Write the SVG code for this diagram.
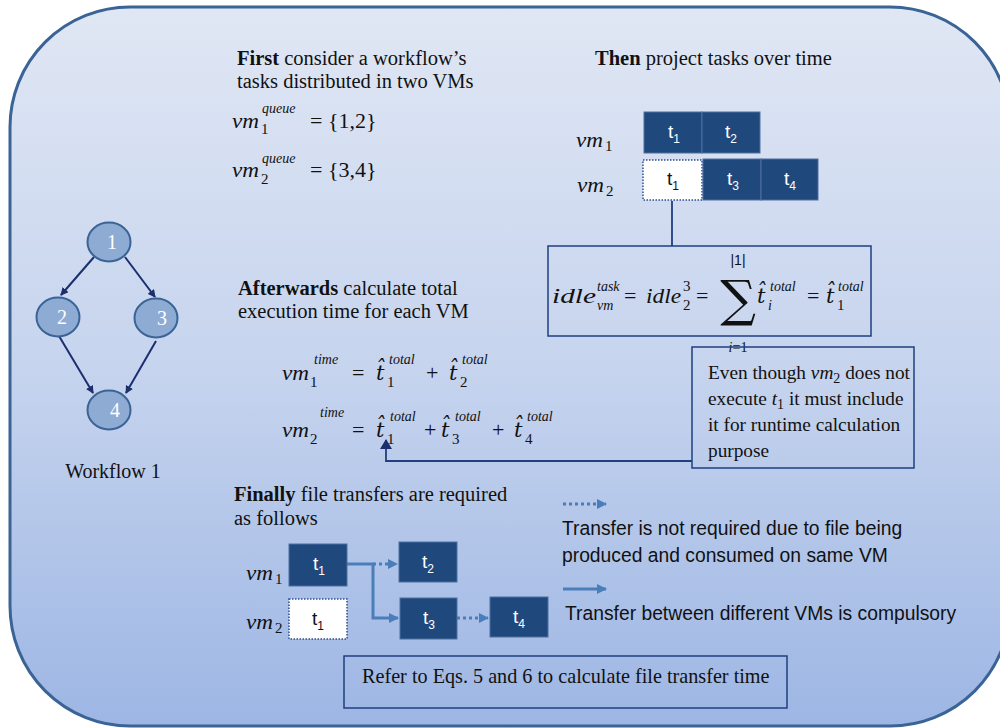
<svg xmlns="http://www.w3.org/2000/svg" width="1000" height="728" viewBox="0 0 1000 728">
<defs>
<linearGradient id="bg" x1="0" y1="0" x2="0" y2="1">
<stop offset="0" stop-color="#e0e7f4"/>
<stop offset="0.5" stop-color="#c6d4ee"/>
<stop offset="1" stop-color="#9db6e4"/>
</linearGradient>
<marker id="navy" markerWidth="8" markerHeight="8" refX="7" refY="4" orient="auto" markerUnits="userSpaceOnUse">
<path d="M0,0 L8,4 L0,8 Z" fill="#1b2f6e"/>
</marker>
<marker id="blue" markerWidth="10" markerHeight="10" refX="9" refY="5" orient="auto" markerUnits="userSpaceOnUse">
<path d="M0,0 L10,5 L0,10 Z" fill="#4a7ebb"/>
</marker>
<marker id="navyBig" markerWidth="10" markerHeight="12" refX="9" refY="6" orient="auto" markerUnits="userSpaceOnUse">
<path d="M0,0 L10,6 L0,12 Z" fill="#1b2f6e"/>
</marker>
</defs>
<style>
.serif{font-family:"Liberation Serif","Times New Roman",serif;fill:#111}
.t{font-size:20.5px}
.m{font-family:"Liberation Serif","DejaVu Serif",serif;font-style:italic;fill:#111;font-size:22px}
.mu{font-family:"Liberation Serif","DejaVu Serif",serif;fill:#111;font-size:22px}
.sup{font-family:"Liberation Serif","DejaVu Serif",serif;font-style:italic;fill:#111;font-size:14px}
.sub{font-family:"Liberation Serif","DejaVu Serif",serif;fill:#111;font-size:15px}
.hat{font-family:"DejaVu Serif",serif;font-style:italic;fill:#111;font-size:21px}
.sans{font-family:"Liberation Sans",Arial,sans-serif;fill:#111;font-size:19.3px}
.task{fill:#1f497d;stroke:#4f6f9f;stroke-width:1}
.ghost{fill:#ffffff;stroke:#2f4f8f;stroke-width:1.5;stroke-dasharray:1.5 1.5}
.tl{font-family:"Liberation Sans Narrow","Liberation Sans",sans-serif;fill:#fff;font-size:19px}
.tlk{font-family:"Liberation Sans Narrow","Liberation Sans",sans-serif;fill:#111;font-size:19px}
.box{fill:none;stroke:#1f3f80;stroke-width:1.5}
.node{fill:#8eabd3;stroke:#3a6396;stroke-width:2}
.nl{font-family:"Liberation Serif",serif;fill:#fff;font-size:20px}
.edge{stroke:#1b2f6e;stroke-width:2;fill:none}
.tr{stroke:#4a7ebb;stroke-width:3;fill:none}
.dot{stroke-dasharray:3 3}
</style>

<g id="background">
<rect x="10" y="7" width="1000" height="719" rx="120" ry="120" fill="url(#bg)" stroke="#3a6396" stroke-width="3"/>
</g>

<g id="connectors">
<line class="edge" x1="94" y1="257" x2="61" y2="295" marker-end="url(#navy)"/>
<line class="edge" x1="125" y1="257" x2="155" y2="297" marker-end="url(#navy)"/>
<line class="edge" x1="59" y1="336" x2="93" y2="393" marker-end="url(#navy)"/>
<line class="edge" x1="156" y1="341" x2="126" y2="393" marker-end="url(#navy)"/>
<line x1="672" y1="201" x2="672" y2="246" stroke="#1f3f80" stroke-width="1.8"/>
<path d="M692,461 H386 V440" stroke="#1f3f80" stroke-width="1.8" fill="none" marker-end="url(#navyBig)"/>
<path class="tr" d="M347,564 H373 V618 H398" marker-end="url(#blue)"/>
<path class="tr dot" d="M373,564 H397" marker-end="url(#blue)"/>
<path class="tr dot" d="M457,618 H488" marker-end="url(#blue)"/>
<path class="tr dot" d="M563,504 H606" marker-end="url(#blue)"/>
<path class="tr" d="M563,589 H606" marker-end="url(#blue)"/>
</g>

<g id="workflow">
<g id="n1"><ellipse class="node" cx="109" cy="242" rx="21.5" ry="19.5"/><text class="nl" x="112" y="249" text-anchor="middle">1</text></g>
<g id="n2"><ellipse class="node" cx="58" cy="317" rx="21.5" ry="19.5"/><text class="nl" x="62" y="324" text-anchor="middle">2</text></g>
<g id="n3"><ellipse class="node" cx="156" cy="318" rx="21.5" ry="19.5"/><text class="nl" x="162" y="325" text-anchor="middle">3</text></g>
<g id="n4"><ellipse class="node" cx="109" cy="410" rx="21.5" ry="19.5"/><text class="nl" x="115" y="417" text-anchor="middle">4</text></g>
<text class="serif" x="113" y="478" font-size="20" text-anchor="middle">Workflow 1</text>
</g>

<g id="step-first">
<text class="serif t" x="237" y="65"><tspan font-weight="bold">First</tspan> consider a workflow’s</text>
<text class="serif t" x="237" y="88">tasks distributed in two VMs</text>
<text class="m" x="232" y="128" textLength="27" lengthAdjust="spacingAndGlyphs">vm</text>
<text class="sub" x="261" y="134">1</text>
<text class="sup" x="262" y="113">queue</text>
<text class="mu" x="310" y="128">= {1,2}</text>
<text class="m" x="232" y="177" textLength="27" lengthAdjust="spacingAndGlyphs">vm</text>
<text class="sub" x="261" y="184">2</text>
<text class="sup" x="262" y="163">queue</text>
<text class="mu" x="310" y="177">= {3,4}</text>
</g>

<g id="step-then">
<text class="serif t" x="595" y="65"><tspan font-weight="bold">Then</tspan> project tasks over time</text>
<text class="m" x="576" y="147" textLength="27" lengthAdjust="spacingAndGlyphs">vm</text><text class="sub" x="605" y="151">1</text>
<text class="m" x="577" y="192" textLength="27" lengthAdjust="spacingAndGlyphs">vm</text><text class="sub" x="606" y="196">2</text>
<g id="g-vm1-t1"><rect class="task" x="644" y="112" width="58" height="41"/><text class="tl" x="668" y="138">t<tspan font-size="12" dy="5">1</tspan></text></g>
<g id="g-vm1-t2"><rect class="task" x="702" y="112" width="58" height="41"/><text class="tl" x="725" y="138">t<tspan font-size="12" dy="5">2</tspan></text></g>
<g id="g-vm2-t1"><rect class="ghost" x="643" y="160" width="59" height="40"/><text class="tlk" x="667" y="185">t<tspan font-size="12" dy="5">1</tspan></text></g>
<g id="g-vm2-t3"><rect class="task" x="703" y="159" width="58" height="41"/><text class="tl" x="727" y="185">t<tspan font-size="12" dy="5">3</tspan></text></g>
<g id="g-vm2-t4"><rect class="task" x="761" y="159" width="57" height="41"/><text class="tl" x="784" y="185">t<tspan font-size="12" dy="5">4</tspan></text></g>
</g>

<g id="idle-box">
<rect class="box" x="548" y="246" width="323" height="90"/>
<text class="m" x="552" y="303" font-size="24" textLength="44" lengthAdjust="spacingAndGlyphs">idle</text>
<text class="sup" x="597" y="291" font-size="15">task</text>
<text class="sup" x="597" y="310" font-size="15">vm</text>
<text class="mu" x="624" y="303" font-size="24">=</text>
<text class="m" x="646" y="303" font-size="24" textLength="35" lengthAdjust="spacingAndGlyphs">idle</text>
<text class="sub" x="683" y="291">3</text>
<text class="sub" x="683" y="310">2</text>
<text class="mu" x="696" y="303" font-size="24">=</text>
<text x="738" y="316" font-family="'DejaVu Serif',serif" font-size="50" text-anchor="middle" fill="#111">∑</text>
<text x="738" y="265" font-family="'Liberation Sans',sans-serif" font-size="14" text-anchor="middle" fill="#111">|1|</text>
<text class="sup" x="738" y="352" font-size="15" text-anchor="middle">i<tspan font-style="normal">=1</tspan></text>
<text class="hat" x="757" y="303">t̂</text>
<text class="sup" x="770" y="291" font-size="15">total</text>
<text class="sup" x="768" y="310" font-size="15">i</text>
<text class="mu" x="807" y="303" font-size="24">=</text>
<text class="hat" x="826" y="303">t̂</text>
<text class="sup" x="838" y="291" font-size="15">total</text>
<text class="sub" x="837" y="310">1</text>
</g>

<g id="note-box">
<rect class="box" x="692" y="347" width="222" height="121"/>
<text class="serif" x="708" y="379" font-size="19.3">Even though <tspan font-style="italic">vm</tspan><tspan font-size="14" dy="4">2</tspan><tspan dy="-4"> does not</tspan></text>
<text class="serif" x="708" y="405" font-size="19.3">execute <tspan font-style="italic">t</tspan><tspan font-size="14" dy="4">1</tspan><tspan dy="-4"> it must include</tspan></text>
<text class="serif" x="708" y="431" font-size="19.3">it for runtime calculation</text>
<text class="serif" x="708" y="457" font-size="19.3">purpose</text>
</g>

<g id="step-afterwards">
<text class="serif t" x="238" y="295"><tspan font-weight="bold">Afterwards</tspan> calculate total</text>
<text class="serif t" x="238" y="318">execution time for each VM</text>
<text class="m" x="282" y="380" textLength="27" lengthAdjust="spacingAndGlyphs">vm</text>
<text class="sub" x="310" y="387">1</text>
<text class="sup" x="314" y="364">time</text>
<text class="mu" x="352" y="380">=</text>
<text class="hat" x="376" y="380">t̂</text>
<text class="sup" x="389" y="364">total</text>
<text class="sub" x="387" y="387">1</text>
<text class="mu" x="426" y="380">+</text>
<text class="hat" x="449" y="380">t̂</text>
<text class="sup" x="462" y="364">total</text>
<text class="sub" x="460" y="387">2</text>

<text class="m" x="282" y="437" textLength="27" lengthAdjust="spacingAndGlyphs">vm</text>
<text class="sub" x="310" y="444">2</text>
<text class="sup" x="320" y="417">time</text>
<text class="mu" x="352" y="437">=</text>
<text class="hat" x="376" y="437">t̂</text>
<text class="sup" x="390" y="421">total</text>
<text class="sub" x="387" y="444">1</text>
<text class="mu" x="424" y="437">+</text>
<text class="hat" x="441" y="437">t̂</text>
<text class="sup" x="455" y="421">total</text>
<text class="sub" x="452" y="444">3</text>
<text class="mu" x="492" y="437">+</text>
<text class="hat" x="514" y="437">t̂</text>
<text class="sup" x="527" y="421">total</text>
<text class="sub" x="525" y="444">4</text>
</g>

<g id="step-finally">
<text class="serif t" x="234" y="501"><tspan font-weight="bold">Finally</tspan> file transfers are required</text>
<text class="serif t" x="234" y="525">as follows</text>
<text class="m" x="246" y="580" textLength="27" lengthAdjust="spacingAndGlyphs">vm</text><text class="sub" x="275" y="584">1</text>
<text class="m" x="246" y="629" textLength="27" lengthAdjust="spacingAndGlyphs">vm</text><text class="sub" x="275" y="633">2</text>
<g id="f-vm1-t1"><rect class="task" x="289" y="544" width="58" height="42"/><text class="tl" x="313" y="570">t<tspan font-size="12" dy="5">1</tspan></text></g>
<g id="f-vm1-t2"><rect class="task" x="399" y="542" width="58" height="40"/><text class="tl" x="422" y="568">t<tspan font-size="12" dy="5">2</tspan></text></g>
<g id="f-vm2-t1"><rect class="ghost" x="289" y="599" width="58" height="40"/><text class="tlk" x="312" y="625">t<tspan font-size="12" dy="5">1</tspan></text></g>
<g id="f-vm2-t3"><rect class="task" x="400" y="598" width="57" height="41"/><text class="tl" x="423" y="624">t<tspan font-size="12" dy="5">3</tspan></text></g>
<g id="f-vm2-t4"><rect class="task" x="490" y="597" width="58" height="40"/><text class="tl" x="513" y="623">t<tspan font-size="12" dy="5">4</tspan></text></g>
</g>

<g id="legend">
<text class="sans" x="562" y="535">Transfer is not required due to file being</text>
<text class="sans" x="562" y="562">produced and consumed on same VM</text>
<text class="sans" x="565" y="620">Transfer between different VMs is compulsory</text>
</g>

<g id="refer-box">
<rect class="box" x="344" y="656" width="443" height="52"/>
<text class="serif" x="362" y="683" font-size="20.2">Refer to Eqs. 5 and 6 to calculate file transfer time</text>
</g>
</svg>
